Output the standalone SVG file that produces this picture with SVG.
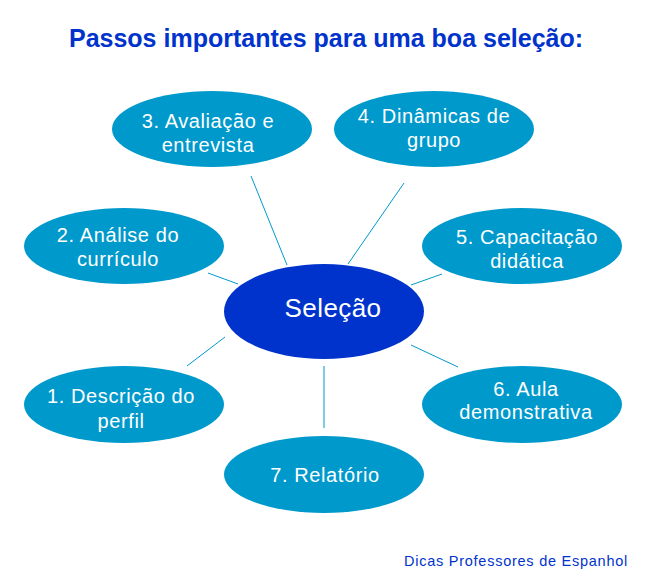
<svg xmlns="http://www.w3.org/2000/svg" width="650" height="580" viewBox="0 0 650 580">
<style>
.node{fill:#0099cc}
.center{fill:#0033cc}
.lbl{font-family:"Liberation Sans",Arial,sans-serif;font-size:20px;fill:#ffffff;text-anchor:middle;letter-spacing:0.6px}
.clbl{font-family:"Liberation Sans",Arial,sans-serif;font-size:26px;fill:#ffffff;text-anchor:middle;letter-spacing:0.4px}
.title{font-family:"Liberation Sans",Arial,sans-serif;font-size:25px;font-weight:bold;fill:#0033cc;text-anchor:middle}
.foot{font-family:"Liberation Sans",Arial,sans-serif;font-size:14.5px;fill:#0033cc;text-anchor:middle;letter-spacing:0.75px}
.conn line{stroke:#0099cc;stroke-width:1;fill:none}
</style>
<rect width="650" height="580" fill="#ffffff"/>
<text class="title" x="326" y="47">Passos importantes para uma boa seleção:</text>
<g id="connectors" class="conn">
<line x1="251" y1="176" x2="287" y2="265"/>
<line x1="404" y1="183" x2="348" y2="264"/>
<line x1="208" y1="273" x2="238" y2="284"/>
<line x1="442" y1="274" x2="411" y2="285"/>
<line x1="187" y1="366" x2="225" y2="337"/>
<line x1="411" y1="345" x2="458" y2="367"/>
<line x1="324" y1="366" x2="324" y2="428"/>
</g>
<g id="selecao">
<ellipse class="center" cx="324" cy="311.5" rx="100" ry="47.5"/>
<text class="clbl" x="333" y="316.5">Seleção</text>
</g>
<g id="n3">
<ellipse class="node" cx="212" cy="129" rx="100" ry="38"/>
<text class="lbl" x="208" y="128.3">3. Avaliação e</text>
<text class="lbl" x="208" y="151.7">entrevista</text>
</g>
<g id="n4">
<ellipse class="node" cx="434" cy="129" rx="100" ry="38"/>
<text class="lbl" x="434" y="123.3">4. Dinâmicas de</text>
<text class="lbl" x="434" y="147.3">grupo</text>
</g>
<g id="n2">
<ellipse class="node" cx="124" cy="246" rx="100" ry="38"/>
<text class="lbl" x="118" y="241.7">2. Análise do</text>
<text class="lbl" x="118" y="265.7">currículo</text>
</g>
<g id="n5">
<ellipse class="node" cx="522" cy="246" rx="100" ry="38"/>
<text class="lbl" x="527" y="244.3">5. Capacitação</text>
<text class="lbl" x="527" y="268.3">didática</text>
</g>
<g id="n1">
<ellipse class="node" cx="124" cy="404.5" rx="100" ry="38.5"/>
<text class="lbl" x="121" y="403.3">1. Descrição do</text>
<text class="lbl" x="121" y="428.3">perfil</text>
</g>
<g id="n6">
<ellipse class="node" cx="522" cy="404.5" rx="100" ry="38.5"/>
<text class="lbl" x="526" y="395.7">6. Aula</text>
<text class="lbl" x="526" y="419.3">demonstrativa</text>
</g>
<g id="n7">
<ellipse class="node" cx="324" cy="474.5" rx="100" ry="38.5"/>
<text class="lbl" x="325" y="481.7">7. Relatório</text>
</g>
<text class="foot" x="516" y="566">Dicas Professores de Espanhol</text>
</svg>
